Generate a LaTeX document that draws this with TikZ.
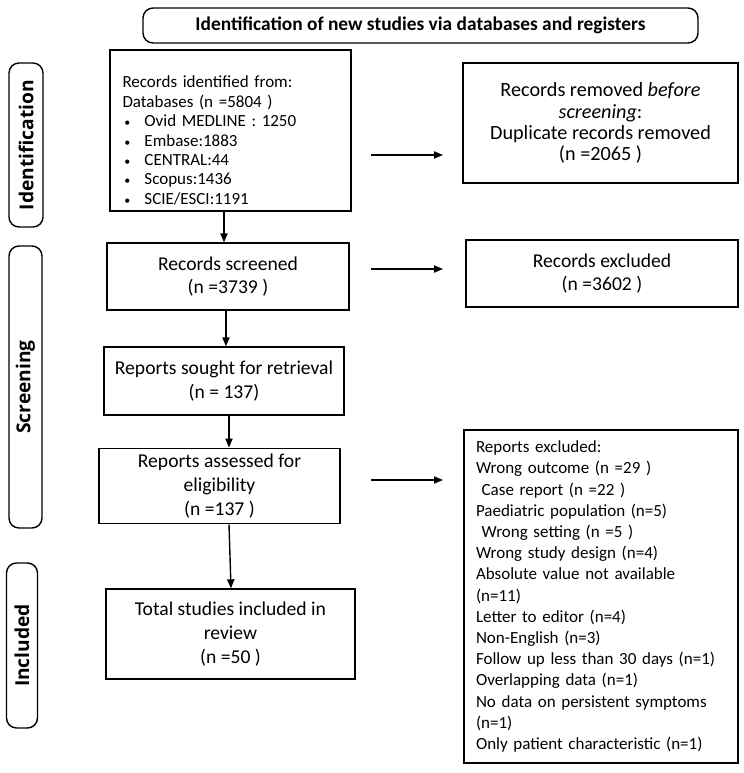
\documentclass[tikz,border=0pt]{standalone}
\usepackage{fontspec}
\setmainfont{Carlito}
\newfontfamily\labelfont{Open Sans}
\usetikzlibrary{arrows.meta}

\begin{document}
\begin{tikzpicture}[x=0.5pt, y=-0.5pt, line width=0.7pt,
  box/.style 2 args={draw, minimum width=#1*0.5pt, minimum height=#2*0.5pt, inner sep=3pt, align=center, font=\fontsize{9.8}{11.8}\selectfont},
  sidelabel/.style 2 args={draw, rounded corners=5pt, rotate=90, minimum width=#1*0.5pt, minimum height=#2*0.5pt, inner sep=0pt, font=\labelfont\fontsize{9.6}{11}\selectfont\bfseries},
  arr/.style={-{Triangle[length=4.5pt,width=3.6pt]}}]

\useasboundingbox (0,0) rectangle (744,773);

% heading
\node[box={555}{35}, rounded corners=5pt, font=\fontsize{9.7}{11}\selectfont\bfseries] (head) at (420.5,25.5) {Identification of new studies via databases and registers};

% phase labels
\node[sidelabel={164}{34}] (identlab) at (26,145) {Identification};
\node[sidelabel={282}{33}] (screenlab) at (25.5,387) {Screening};
\node[sidelabel={165}{31}] (inclab) at (22,645.5) {Included};

% left column
\newcommand{\dbitem}{\hspace*{1pt}{\fontsize{6}{6}\selectfont\textbullet}\hspace{7pt}}
\node[box={241}{159}, align=left, text width=108pt, font=\fontsize{8.5}{9.7}\selectfont] (records) at (230.5,130.5) {\rule{0pt}{16pt}Records identified from:\\
Databases (n =5804 )\\
\dbitem Ovid MEDLINE : 1250\\
\dbitem Embase:1883\\
\dbitem CENTRAL:44\\
\dbitem Scopus:1436\\
\dbitem SCIE/ESCI:1191};
\node[box={242}{67}] (screened) at (228,276.5) {Records screened\\ (n =3739 )};
\node[box={240}{68}] (sought) at (224,381) {Reports sought for retrieval\\ (n = 137)};
\node[box={241}{68}] (assessed) at (219.5,486) {Reports assessed for\\ eligibility\\ (n =137 )};
\node[box={249}{90}] (total) at (230.5,634) {Total studies included in\\ review\\ (n =50 )};

% right column
\node[box={275}{120}, font=\fontsize{10.1}{10.6}\selectfont] (removed) at (600.5,123) {Records removed \textit{before}\\ \textit{screening}:\\ Duplicate records removed\\ (n =2065 )};
\node[box={272}{67}] (excluded) at (602,273.5) {Records excluded\\ (n =3602 )};
\node[box={274}{333}, align=left, text width=125pt, font=\fontsize{8.5}{10.6}\selectfont] (repexcl) at (601,596.5) {Reports excluded:\\
Wrong outcome (n =29 )\\
\ Case report (n =22 )\\
Paediatric population (n=5)\\
\ Wrong setting (n =5 )\\
Wrong study design (n=4)\\
Absolute value not available\\
(n=11)\\
Letter to editor (n=4)\\
Non-English (n=3)\\
Follow up less than 30 days (n=1)\\
Overlapping data (n=1)\\
No data on persistent symptoms\\
(n=1)\\
Only patient characteristic (n=1)};

% vertical arrows
\draw[arr] ([xshift=-3.25pt]records.south) -- ([xshift=-3.25pt]records.south |- screened.north);
\draw[arr] ([xshift=-1pt]screened.south) -- ([xshift=-1pt]screened.south |- sought.north);
\draw[arr] ([xshift=2.5pt]sought.south) -- ([xshift=2.5pt]sought.south |- assessed.north);
\draw[arr] ([xshift=4.75pt]assessed.south) -- ([xshift=0.25pt]total.north);

% horizontal arrows
\coordinate (a1) at (371,155);
\coordinate (b1) at (443,155);
\coordinate (a2) at (371,269);
\coordinate (b2) at (443,269);
\coordinate (a3) at (371,480);
\coordinate (b3) at (443,480);
\draw[arr] (a1) -- (b1);
\draw[arr] (a2) -- (b2);
\draw[arr] (a3) -- (b3);

\end{tikzpicture}
\end{document}
